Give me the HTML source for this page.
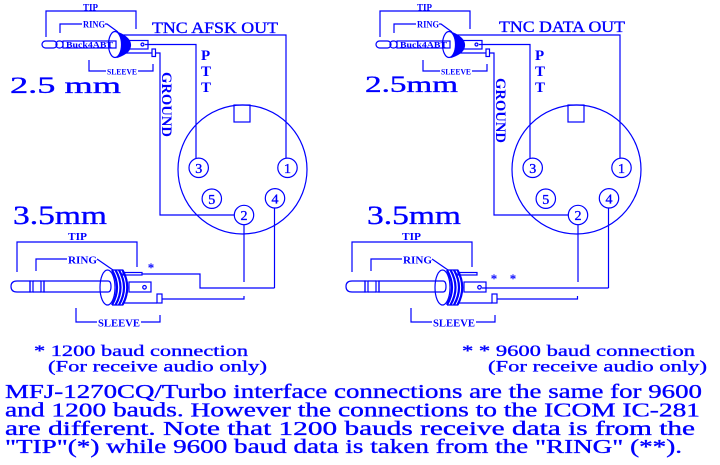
<!DOCTYPE html>
<html><head><meta charset="utf-8"><style>
html,body{margin:0;padding:0;background:#fff;}
svg{display:block;}
text{font-family:"Liberation Serif",serif;fill:#00f;}
.b{font-weight:bold;}
.s{stroke:#00f;stroke-width:0.35;}
</style></head><body>
<svg width="720" height="465" viewBox="0 0 720 465" xmlns="http://www.w3.org/2000/svg">
<defs>
<g id="topShapes" stroke="#00f" fill="none" stroke-width="1.2">
  <path d="M46,37V11H136V29"/>
  <path d="M60,33V24H82 M105,24H107L118,32"/>
  <rect x="42" y="41" width="15" height="7" rx="3.5"/>
  <rect x="56" y="41" width="7" height="7" rx="3"/>
  <rect x="63" y="41" width="53" height="7"/>
  <ellipse cx="115" cy="44.5" rx="6.5" ry="13"/>
  <path d="M118,32.5 C127,36 130.5,41 130.5,45 C130.5,50 127,54 118,57 C121.5,52 122.5,48 122.5,45 C122.5,41 121.5,37 118,32.5 Z" fill="#00f"/>
  <path d="M123,35H286V158"/>
  <rect x="128" y="40.5" width="20" height="8.5"/>
  <circle cx="142.5" cy="44.5" r="1.5"/>
  <path d="M145,44.5H196V158.5"/>
  <path d="M125,53H152"/>
  <rect x="152" y="49" width="3.5" height="7.5"/>
  <path d="M155.5,53H160V215H234.3"/>
  <path d="M89,60V71H106 M138,71H153V64"/>
  <circle cx="242.5" cy="169.5" r="64.5"/>
  <rect x="234" y="105" width="16" height="17"/>
  <circle cx="198.7" cy="167.8" r="9.7"/>
  <circle cx="287.5" cy="167.8" r="9.7"/>
  <circle cx="211.8" cy="198.7" r="9.7"/>
  <circle cx="275" cy="198.3" r="9.7"/>
  <circle cx="244" cy="215" r="9.7"/>
  <path d="M244,224.7V282 M274.5,208V288"/>
</g>
<g id="botShapes" stroke="#00f" fill="none" stroke-width="1.2">
  <path d="M17,272V242H137V267"/>
  <path d="M36,271V259H67 M97,259L113,270"/>
  <path d="M30,281H17Q11,281 11,286.5Q11,292 17,292H30Z"/>
  <rect x="30" y="281" width="3" height="11"/>
  <rect x="41" y="281" width="3" height="11"/>
  <path d="M33,281H41 M33,292H41"/>
  <path d="M44,281H108Q111,281 111,286.5Q111,292 108,292H44Z"/>
  <ellipse cx="107.5" cy="287.5" rx="7.5" ry="17.5"/>
  <path d="M112,270Q122,287.5 112,305 M115.5,270Q125.5,287.5 115.5,305 M119,270Q129,287.5 119,305 M122.5,270Q132,287.5 122.5,305" stroke-width="2.2"/>
  <path d="M112,270H123 M112,305H123"/>
  <rect x="123" y="272.5" width="19" height="2.5"/>
  <rect x="129" y="282" width="22" height="10"/>
  <circle cx="144.5" cy="287.3" r="1.8"/>
  <path d="M123,303H157"/>
  <rect x="157" y="294" width="5" height="9"/>
  <path d="M76,308V322H97 M141,322H160V315"/>
</g>
</defs>

<use href="#topShapes"/>
<use href="#topShapes" transform="translate(334,0)"/>
<use href="#botShapes"/>
<use href="#botShapes" transform="translate(335,0)"/>

<g stroke="#00f" fill="none" stroke-width="1.2">
  <path d="M142,274H200V288H274.5"/>
  <path d="M162,299H244V296"/>
  <path d="M482,288H608.5"/>
  <path d="M497,299H577.5V296"/>
</g>

<!-- Left top labels -->
<text class="b" x="83" y="10.5" font-size="9" textLength="15" lengthAdjust="spacingAndGlyphs">TIP</text>
<text class="b" x="83" y="27.5" font-size="9" textLength="22" lengthAdjust="spacingAndGlyphs">RING</text>
<text class="b" x="66" y="47.5" font-size="8.5" textLength="47" lengthAdjust="spacingAndGlyphs">Buck4ABT</text>
<text class="b" x="107" y="74.5" font-size="8.5" textLength="30" lengthAdjust="spacingAndGlyphs">SLEEVE</text>
<text class="s" x="152" y="33" font-size="16" textLength="126" lengthAdjust="spacingAndGlyphs">TNC AFSK OUT</text>
<text class="b" x="201" y="60" font-size="15">P</text>
<text class="b" x="201" y="76" font-size="15">T</text>
<text class="b" x="201" y="92" font-size="15">T</text>
<text class="b" font-size="15" transform="translate(162,72) rotate(90)" textLength="65" lengthAdjust="spacingAndGlyphs">GROUND</text>
<text class="s" x="10" y="93" font-size="23" textLength="111" lengthAdjust="spacingAndGlyphs">2.5  mm</text>
<g font-size="14" text-anchor="middle" class="s">
<text x="198.7" y="173">3</text>
<text x="287.5" y="173">1</text>
<text x="211.8" y="204">5</text>
<text x="275" y="203.5">4</text>
<text x="244" y="220">2</text>
</g>

<!-- Right top labels -->
<text class="b" x="417" y="10.5" font-size="9" textLength="15" lengthAdjust="spacingAndGlyphs">TIP</text>
<text class="b" x="417" y="27.5" font-size="9" textLength="22" lengthAdjust="spacingAndGlyphs">RING</text>
<text class="b" x="400" y="47.5" font-size="8.5" textLength="47" lengthAdjust="spacingAndGlyphs">Buck4ABT</text>
<text class="b" x="441" y="74.5" font-size="8.5" textLength="30" lengthAdjust="spacingAndGlyphs">SLEEVE</text>
<text class="s" x="499" y="32" font-size="16" textLength="126" lengthAdjust="spacingAndGlyphs">TNC DATA OUT</text>
<text class="b" x="535" y="60" font-size="15">P</text>
<text class="b" x="535" y="76" font-size="15">T</text>
<text class="b" x="535" y="92" font-size="15">T</text>
<text class="b" font-size="15" transform="translate(496,78) rotate(90)" textLength="65" lengthAdjust="spacingAndGlyphs">GROUND</text>
<text class="s" x="365" y="92" font-size="23" textLength="93" lengthAdjust="spacingAndGlyphs">2.5mm</text>
<g font-size="14" text-anchor="middle" class="s">
<text x="532.7" y="173">3</text>
<text x="621.5" y="173">1</text>
<text x="545.8" y="204">5</text>
<text x="609" y="203.5">4</text>
<text x="578" y="220">2</text>
</g>

<!-- Left bottom labels -->
<text class="s" x="13" y="224" font-size="26" textLength="94" lengthAdjust="spacingAndGlyphs">3.5mm</text>
<text class="b" x="68" y="240" font-size="11" textLength="19" lengthAdjust="spacingAndGlyphs">TIP</text>
<text class="b" x="68" y="263.5" font-size="10.5" textLength="29" lengthAdjust="spacingAndGlyphs">RING</text>
<text class="b" x="98" y="326.5" font-size="10.5" textLength="42" lengthAdjust="spacingAndGlyphs">SLEEVE</text>
<text class="b" x="151" y="272" font-size="13" text-anchor="middle">*</text>

<!-- Right bottom labels -->
<text class="s" x="367" y="224" font-size="26" textLength="94" lengthAdjust="spacingAndGlyphs">3.5mm</text>
<text class="b" x="402" y="240" font-size="11" textLength="19" lengthAdjust="spacingAndGlyphs">TIP</text>
<text class="b" x="403" y="263.5" font-size="10.5" textLength="29" lengthAdjust="spacingAndGlyphs">RING</text>
<text class="b" x="433" y="326.5" font-size="10.5" textLength="42" lengthAdjust="spacingAndGlyphs">SLEEVE</text>
<text class="b" x="494" y="283" font-size="13" text-anchor="middle">*</text>
<text class="b" x="513" y="283" font-size="13" text-anchor="middle">*</text>

<!-- Notes -->
<g class="s">
<text x="34" y="356" font-size="16" textLength="214" lengthAdjust="spacingAndGlyphs">* 1200 baud connection</text>
<text x="48" y="371.5" font-size="16" textLength="219" lengthAdjust="spacingAndGlyphs">(For receive audio only)</text>
<text x="462" y="356" font-size="16" textLength="233" lengthAdjust="spacingAndGlyphs">* * 9600 baud connection</text>
<text x="488" y="371.5" font-size="16" textLength="219" lengthAdjust="spacingAndGlyphs">(For receive audio only)</text>
</g>

<!-- Paragraph -->
<g font-size="19.5" class="s">
<text x="5" y="398" textLength="697" lengthAdjust="spacingAndGlyphs">MFJ-1270CQ/Turbo interface connections are the same for 9600</text>
<text x="5" y="416.7" textLength="695" lengthAdjust="spacingAndGlyphs">and 1200 bauds.  However the connections to the ICOM IC-281</text>
<text x="5" y="435" textLength="690" lengthAdjust="spacingAndGlyphs">are different.  Note that 1200 bauds receive data is from the</text>
<text x="5" y="453" textLength="677" lengthAdjust="spacingAndGlyphs">"TIP"(*) while 9600 baud data is taken from the "RING" (**).</text>
</g>
</svg>
</body></html>
